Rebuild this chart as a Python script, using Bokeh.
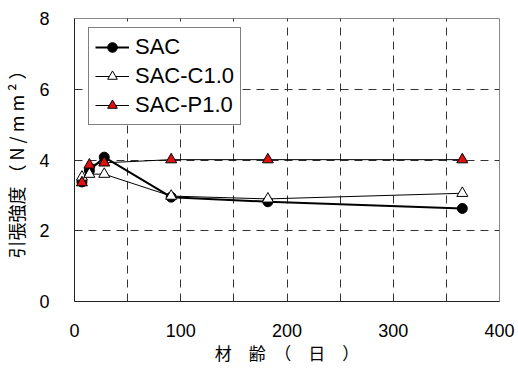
from bokeh.plotting import figure
from bokeh.models import Range1d, FixedTicker, Legend, LegendItem
from bokeh.embed import file_html
from bokeh.resources import INLINE

days = [7, 14, 28, 91, 182, 365]
sac = [3.38, 3.70, 4.08, 2.95, 2.82, 2.63]
sac_c = [3.52, 3.60, 3.60, 2.98, 2.90, 3.06]
sac_p = [3.36, 3.86, 3.92, 4.01, 4.01, 4.01]
names = ["SAC", "SAC-C1.0", "SAC-P1.0"]
x_ticks = [0, 100, 200, 300, 400]
y_ticks = [0, 2, 4, 6, 8]
x_grid = [50, 100, 150, 200, 250, 300, 350]
y_grid = [2, 4, 6]

p = figure(width=518, height=369, output_backend="svg", toolbar_location=None,
           x_range=Range1d(0, 400), y_range=Range1d(0, 8),
           min_border_left=72, min_border_right=19, min_border_top=18, min_border_bottom=68)
p.outline_line_color = "#888888"
p.background_fill_color = "white"

for ax in (p.xaxis[0], p.yaxis[0]):
    ax.major_tick_in = 0
    ax.major_tick_out = 0
    ax.minor_tick_in = 0
    ax.minor_tick_out = 0
    ax.axis_line_color = "#222222"
    ax.major_label_text_font = "Liberation Sans"
    ax.major_label_text_font_size = "18px"
    ax.major_label_text_color = "black"
    ax.axis_label_text_font = "Noto Sans CJK JP"
    ax.axis_label_text_font_style = "normal"
    ax.axis_label_text_color = "black"

p.xaxis.ticker = FixedTicker(ticks=x_ticks)
p.yaxis.ticker = FixedTicker(ticks=y_ticks)
p.xaxis.major_label_standoff = 22
p.yaxis.major_label_standoff = 25
p.xaxis.axis_label = "材　齢　（　日　）"
p.yaxis.axis_label = "引張強度 （ N / m m ² ）"
p.xaxis.axis_label_text_font_size = "17px"
p.yaxis.axis_label_text_font_size = "18px"
p.xaxis.axis_label_standoff = 0
p.yaxis.axis_label_standoff = 7

p.xgrid.ticker = FixedTicker(ticks=x_grid)
p.ygrid.ticker = FixedTicker(ticks=y_grid)
for g in (p.xgrid[0], p.ygrid[0]):
    g.grid_line_color = "#333333"
    g.grid_line_dash = "8 6"
    g.grid_line_width = 1

l1 = p.line(days, sac, line_color="black", line_width=2)
m1 = p.scatter(days, sac, marker="circle", size=10, fill_color="black", line_color="black")
l2 = p.line(days, sac_c, line_color="black", line_width=1)
m2 = p.scatter(days, sac_c, marker="triangle", size=11, fill_color="white", line_color="black")
l3 = p.line(days, sac_p, line_color="black", line_width=1)
m3 = p.scatter(days, sac_p, marker="triangle", size=11, fill_color="#e01010", line_color="black")

legend = Legend(items=[LegendItem(label=names[0], renderers=[l1, m1]),
                       LegendItem(label=names[1], renderers=[l2, m2]),
                       LegendItem(label=names[2], renderers=[l3, m3])],
                location=(14, 176))
legend.label_text_font = "Liberation Sans"
legend.label_text_font_size = "22px"
legend.label_text_color = "black"
legend.border_line_color = "black"
legend.border_line_width = 1
legend.background_fill_alpha = 1
legend.padding = 6
legend.spacing = 3
legend.glyph_width = 34
legend.glyph_height = 24
legend.label_height = 24
legend.label_standoff = 6
legend.margin = 0
p.add_layout(legend, "center")

open("out.html", "w").write(file_html(p, INLINE))
